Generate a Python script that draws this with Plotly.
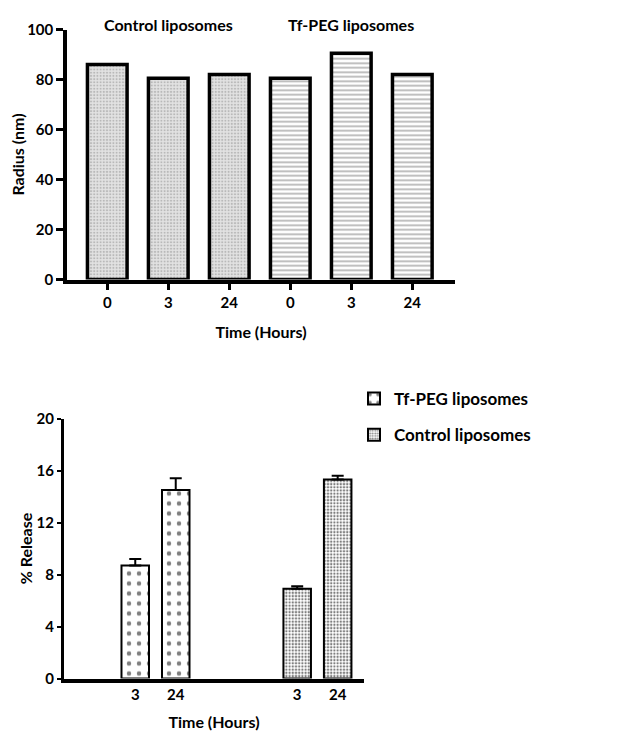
import numpy as np
import plotly.graph_objects as go

# ---------- data ----------
# Top panel: radius (nm)
time_labels_top = ["0", "3", "24"]
control_radius = [86, 80.5, 82]
tfpeg_radius = [80.5, 90.5, 82]
group_names_top = ["Control liposomes", "Tf-PEG liposomes"]

# Bottom panel: % release
time_labels_bottom = ["3", "24"]
tfpeg_release = [8.7, 14.5]
tfpeg_release_err = [0.5, 0.9]
control_release = [6.9, 15.3]
control_release_err = [0.2, 0.3]

FONT = "Lato"

# page has an 8px body margin; compensate so the figure lands where the reference is
OFF = 8
W, H = 628 - OFF, 731 - OFF


def px_x(p):
    return (p - OFF) / W


def px_y(p):
    return 1 - (p - OFF) / H


fig = go.Figure()

# ---------- top panel ----------
n = len(time_labels_top)
x_ctrl = np.arange(n)
x_tf = np.arange(n) + n

fig.add_trace(go.Bar(
    x=x_ctrl, y=control_radius, width=0.65,
    marker=dict(color="#dcdcdc", line=dict(color="black", width=3.5),
                pattern=dict(shape=".", fgcolor="#8f8f8f", bgcolor="#e2e2e2",
                             size=3.2, solidity=0.35, fillmode="overlay")),
    showlegend=False, xaxis="x", yaxis="y"))
fig.add_trace(go.Bar(
    x=x_tf, y=tfpeg_radius, width=0.65,
    marker=dict(color="white", line=dict(color="black", width=3.5),
                pattern=dict(shape="-", fgcolor="#6e6e6e", bgcolor="white",
                             size=4.5, solidity=0.4, fillmode="overlay")),
    showlegend=False, xaxis="x", yaxis="y"))

# ---------- bottom panel ----------
m = len(time_labels_bottom)
xb_tf = np.arange(m)
xb_ctrl = np.arange(m) + m + 2

fig.add_trace(go.Bar(
    x=xb_tf, y=tfpeg_release, width=0.68, name="Tf-PEG liposomes",
    legendgroup="tf",
    error_y=dict(type="data", array=tfpeg_release_err, arrayminus=[0] * m,
                 symmetric=False, color="black", thickness=2, width=6),
    marker=dict(color="white", line=dict(color="black", width=2),
                pattern=dict(shape=".", fgcolor="black", bgcolor="white",
                             size=10, solidity=0.16, fillmode="overlay")),
    xaxis="x2", yaxis="y2"))
fig.add_trace(go.Bar(
    x=xb_ctrl, y=control_release, width=0.68, name="Control liposomes",
    legendgroup="ctrl",
    error_y=dict(type="data", array=control_release_err, arrayminus=[0] * m,
                 symmetric=False, color="black", thickness=2, width=6),
    marker=dict(color="white", line=dict(color="black", width=2),
                pattern=dict(shape=".", fgcolor="black", bgcolor="white",
                             size=3.2, solidity=0.42, fillmode="overlay")),
    xaxis="x2", yaxis="y2"))

tickfont = dict(family=FONT, size=15, color="black", weight="bold")
titlefont = dict(family=FONT, size=16, color="black", weight="bold")

fig.update_layout(
    width=W, height=H,
    margin=dict(l=0, r=0, t=0, b=0, autoexpand=False),
    paper_bgcolor="white", plot_bgcolor="white",
    barmode="overlay",
    font=dict(family=FONT, color="black"),
    xaxis=dict(
        domain=[px_x(67), px_x(455)], range=[-0.66, 5.7],
        tickvals=list(x_ctrl) + list(x_tf),
        ticktext=time_labels_top + time_labels_top,
        showline=True, linecolor="black", linewidth=3.5,
        ticks="outside", ticklen=7, tickwidth=3, tickcolor="black",
        tickfont=tickfont, showgrid=False, zeroline=False, automargin=False,
        title=dict(text="Time (Hours)", font=titlefont, standoff=18),
        anchor="y",
    ),
    yaxis=dict(
        domain=[px_y(279.5), px_y(29.5)], range=[0, 100],
        tickvals=[0, 20, 40, 60, 80, 100],
        showline=True, linecolor="black", linewidth=3.5,
        ticks="outside", ticklen=7, tickwidth=3, tickcolor="black",
        tickfont=tickfont, showgrid=False, zeroline=False, automargin=False,
        title=dict(text="Radius (nm)", font=titlefont, standoff=8),
        anchor="x",
    ),
    xaxis2=dict(
        domain=[px_x(64), px_x(364)], range=[-1.76, 5.65],
        tickvals=list(xb_tf) + list(xb_ctrl),
        ticktext=time_labels_bottom + time_labels_bottom,
        showline=True, linecolor="black", linewidth=3.5,
        ticks="", tickfont=tickfont,
        showgrid=False, zeroline=False, automargin=False,
        title=dict(text="Time (Hours)", font=titlefont, standoff=16),
        anchor="y2",
    ),
    yaxis2=dict(
        domain=[px_y(678.5), px_y(418.5)], range=[0, 20],
        tickvals=[0, 4, 8, 12, 16, 20],
        showline=True, linecolor="black", linewidth=3,
        ticks="outside", ticklen=4, tickwidth=1.5, tickcolor="black",
        tickfont=tickfont, showgrid=False, zeroline=False, automargin=False,
        title=dict(text="% Release", font=titlefont, standoff=0),
        anchor="x2",
    ),
    legend=dict(
        x=px_x(354), y=px_y(381), xanchor="left", yanchor="top",
        font=dict(family=FONT, size=17, color="black", weight="bold"),
        bgcolor="rgba(0,0,0,0)", itemwidth=30, tracegroupgap=11,
    ),
)

# group labels for top panel
for xc, name in zip([x_ctrl.mean(), x_tf.mean()], group_names_top):
    fig.add_annotation(x=xc, y=px_y(24), xref="x", yref="paper",
                       yanchor="middle", xanchor="center",
                       text=name, showarrow=False,
                       font=dict(family=FONT, size=16, color="black", weight="bold"))

fig.write_html("out.html")
